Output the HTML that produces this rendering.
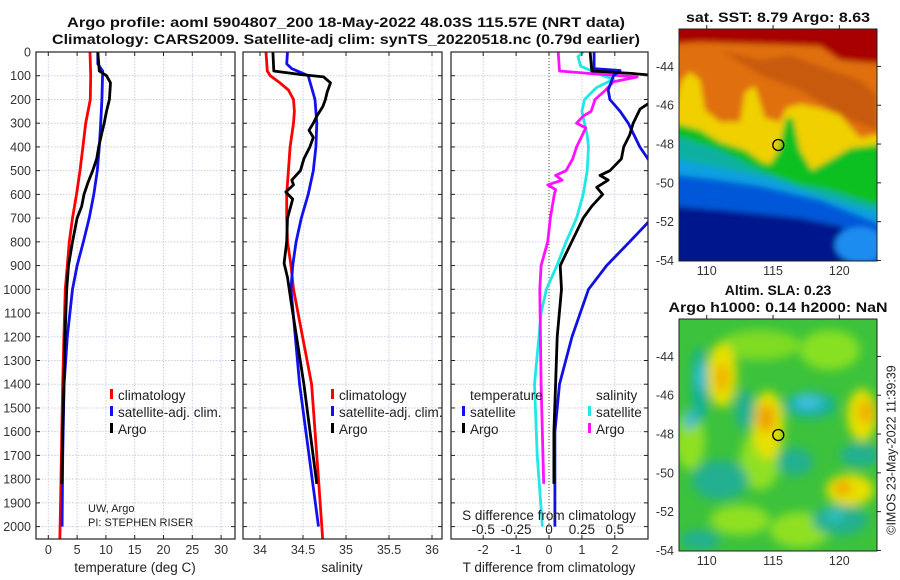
<!DOCTYPE html>
<html><head><meta charset="utf-8"><style>
body{margin:0;background:#fff;}
svg{display:block;font-family:"Liberation Sans","DejaVu Sans",sans-serif;}
.tk{font-size:12.5px;fill:#333;}
.lg{font-size:13.5px;fill:#222;}
.tt{font-size:14px;font-weight:bold;fill:#111;}
</style></head><body>
<svg id="fig" width="900" height="580" viewBox="0 0 900 580">
<defs>
<clipPath id="c1"><rect x="36" y="52" width="199" height="487"/></clipPath>
<clipPath id="c2"><rect x="243" y="52" width="199" height="487"/></clipPath>
<clipPath id="c3"><rect x="451" y="52" width="197" height="487"/></clipPath>
<clipPath id="cm1"><rect x="679" y="29" width="198" height="232"/></clipPath>
<clipPath id="cm2"><rect x="679" y="319" width="198" height="232"/></clipPath>
<filter id="bl" x="-20%" y="-20%" width="140%" height="140%"><feGaussianBlur stdDeviation="3"/></filter>
<filter id="bl2" x="-50%" y="-50%" width="200%" height="200%"><feGaussianBlur stdDeviation="5"/></filter>
</defs>
<text class="tt" x="346" y="27" text-anchor="middle" textLength="558" lengthAdjust="spacingAndGlyphs">Argo profile: aoml 5904807_200 18-May-2022 48.03S 115.57E (NRT data)</text>
<text class="tt" x="346" y="44" text-anchor="middle" textLength="588" lengthAdjust="spacingAndGlyphs">Climatology: CARS2009. Satellite-adj clim: synTS_20220518.nc (0.79d earlier)</text>
<g id="grids"></g>
<g id="lines"></g>
<g id="frames"></g>
<g id="labels"></g>

<!-- SST map -->
<g clip-path="url(#cm1)">
<g filter="url(#bl)">
<rect x="670" y="20" width="220" height="250" fill="#e07010"/>
<path d="M670,20 L890,20 L890,64 L860,62 L840,60 L820,46 L760,44 L700,42 L670,44 Z" fill="#a80000"/>
<path d="M720,50 L760,60 L790,55 L830,70 L860,80 L877,95 L877,130 L850,120 L800,90 L760,75 Z" fill="#c85a08"/>
<path d="M670,118 L682,80 L690,72 L700,80 L705,110 L720,122 L740,122 L745,92 L755,86 L765,118 L780,122 L786,108 L800,104 L820,108 L840,115 L860,138 L890,132 L890,270 L670,270 Z" fill="#f0d000"/>
<path d="M670,122 L700,130 L720,142 L745,150 L762,162 L770,164 L778,152 L786,118 L793,118 L800,150 L812,170 L830,160 L850,148 L890,143 L890,270 L670,270 Z" fill="#10c020"/>
<path d="M670,134 L720,150 L760,170 L800,185 L830,190 L860,200 L890,208 L890,270 L670,270 Z" fill="#10b0a0"/>
<path d="M670,158 L720,168 L770,178 L820,196 L890,216 L890,270 L670,270 Z" fill="#10a0e0"/>
<path d="M670,174 L720,180 L760,186 L820,200 L890,228 L890,270 L670,270 Z" fill="#0058d8"/>
<path d="M670,206 L720,210 L760,214 L800,218 L840,226 L855,240 L870,270 L670,270 Z" fill="#00168c"/>
<ellipse cx="860" cy="245" rx="25" ry="18" fill="#1c8cf0"/>
</g>
<circle cx="778.3" cy="145" r="5.5" fill="none" stroke="#000" stroke-width="1.3"/>
</g>
<rect x="679" y="29" width="198" height="232" fill="none" stroke="#222" stroke-width="1"/>

<!-- SLA map -->
<g clip-path="url(#cm2)">
<rect x="670" y="310" width="220" height="250" fill="#3cc23c"/>
<g filter="url(#bl2)">
<ellipse cx="760" cy="345" rx="40" ry="15" fill="#80dc20"/>
<ellipse cx="830" cy="350" rx="30" ry="20" fill="#88e020"/>
<ellipse cx="690" cy="440" rx="15" ry="30" fill="#90e020"/>
<ellipse cx="740" cy="520" rx="30" ry="15" fill="#90e020"/>
<ellipse cx="800" cy="530" rx="30" ry="18" fill="#90e020"/>
<ellipse cx="760" cy="460" rx="20" ry="30" fill="#90e020"/>
<ellipse cx="722" cy="375" rx="15" ry="32" fill="#e8e000"/>
<ellipse cx="722" cy="378" rx="7" ry="14" fill="#f0b000"/>
<ellipse cx="700" cy="385" rx="8" ry="38" fill="#10b0a0"/>
<ellipse cx="700" cy="377" rx="4" ry="14" fill="#30c0e0"/>
<ellipse cx="690" cy="420" rx="6" ry="10" fill="#30b8d0"/>
<ellipse cx="768" cy="425" rx="16" ry="34" fill="#e8e000"/>
<ellipse cx="766" cy="418" rx="9" ry="14" fill="#f0a000"/>
<ellipse cx="810" cy="405" rx="26" ry="13" fill="#18b0a0"/>
<ellipse cx="808" cy="402" rx="14" ry="7" fill="#40c0e0"/>
<ellipse cx="862" cy="415" rx="15" ry="26" fill="#e8e000"/>
<ellipse cx="866" cy="412" rx="8" ry="12" fill="#f0b000"/>
<ellipse cx="850" cy="490" rx="24" ry="16" fill="#e8e000"/>
<ellipse cx="843" cy="488" rx="8" ry="7" fill="#f0a000"/>
<ellipse cx="720" cy="480" rx="28" ry="20" fill="#20b090"/>
<ellipse cx="840" cy="520" rx="28" ry="15" fill="#20b090"/>
<ellipse cx="835" cy="515" rx="10" ry="6" fill="#30c0c0"/>
<ellipse cx="860" cy="455" rx="20" ry="12" fill="#20b090"/>
<ellipse cx="795" cy="462" rx="18" ry="14" fill="#20b090"/>
<ellipse cx="745" cy="410" rx="10" ry="20" fill="#20b090"/>
<ellipse cx="700" cy="540" rx="20" ry="10" fill="#20b090"/>
</g>
<circle cx="778.3" cy="435" r="5.5" fill="none" stroke="#000" stroke-width="1.3"/>
</g>
<rect x="679" y="319" width="198" height="232" fill="none" stroke="#222" stroke-width="1"/>

<text class="tt" x="778" y="22" text-anchor="middle" textLength="184" lengthAdjust="spacingAndGlyphs">sat. SST: 8.79 Argo: 8.63</text>
<text class="tt" x="778" y="295" text-anchor="middle">Altim. SLA: 0.23</text>
<text class="tt" x="778" y="312" text-anchor="middle" textLength="219" lengthAdjust="spacingAndGlyphs">Argo h1000: 0.14 h2000: NaN</text>
<text x="892" y="450" font-size="12.5" fill="#222" text-anchor="middle" transform="rotate(-90 892 450)" dominant-baseline="middle">©IMOS 23-May-2022 11:39:39</text>
<text x="88" y="512" font-size="11" fill="#222">UW, Argo</text>
<text x="88" y="526" font-size="11" fill="#222">PI: STEPHEN RISER</text>
</svg>
<script>
// depth levels (dbar) and values per series
const tClimD=[0,100,200,300,400,500,600,700,800,900,1000,1200,1400,1600,1800,2000,2060];
const tClimV=[7.24,7.36,7.3,6.5,6.0,5.5,4.9,4.2,3.65,3.3,2.95,2.7,2.5,2.35,2.2,2.05,2.0];
const tSatD=[0,50,80,200,300,400,500,600,700,800,900,1000,1200,1400,1700,2000];
const tSatV=[8.6,8.6,9.45,9.3,9.1,8.85,8.5,7.9,7.1,6.1,5.0,4.2,3.3,2.75,2.5,2.4];
const tArgoD=[0,80,100,130,200,250,300,340,400,450,500,550,600,650,700,800,900,1000,1200,1400,1600,1820];
const tArgoV=[8.6,8.85,10.1,10.8,10.6,10.1,9.7,9.3,8.75,8.4,7.7,6.9,6.2,5.8,5.0,4.2,3.5,3.2,2.9,2.7,2.5,2.35];
const sClimD=[0,80,100,130,160,200,250,300,400,500,600,700,800,900,1000,1400,1800,2060];
const sClimV=[34.07,34.085,34.12,34.23,34.33,34.39,34.40,34.39,34.35,34.33,34.31,34.31,34.32,34.36,34.39,34.6,34.68,34.73];
const sSatD=[0,50,70,100,200,300,400,500,600,700,800,900,1000,1400,2000];
const sSatV=[34.32,34.31,34.37,34.56,34.64,34.66,34.65,34.62,34.56,34.48,34.42,34.38,34.36,34.46,34.68];
const sArgoD=[0,80,95,105,130,170,200,230,270,300,330,360,400,450,500,540,560,590,620,700,800,890,950,1050,1400,1820];
const sArgoV=[34.15,34.16,34.47,34.74,34.82,34.78,34.76,34.73,34.66,34.62,34.57,34.62,34.58,34.51,34.47,34.37,34.39,34.30,34.38,34.32,34.31,34.28,34.32,34.36,34.51,34.66];
const dTArgoD=[0,80,90,100,210,240,300,350,400,450,500,520,540,570,600,650,700,800,900,1000,1200,1400,1600,1820];
const dTArgoV=[1.25,1.3,2.5,3.3,3.1,2.77,2.56,2.45,2.27,2.2,1.85,1.55,1.8,1.45,1.63,1.3,1.04,0.69,0.34,0.38,0.25,0.2,0.15,0.15];
const dTSatD=[0,70,78,100,160,200,250,300,400,470,705,800,900,1000,1200,1400,1600,2000];
const dTSatV=[1.37,1.37,2.16,1.96,1.8,1.85,2.16,2.41,2.76,3.1,3.1,2.45,1.75,1.2,0.7,0.32,0.18,0.18];
const dSSatD=[0,20,60,100,115,150,200,250,300,350,400,500,600,700,800,900,1000,1100,1400,1700,2000];
const dSSatV=[0.26,0.22,0.24,0.41,0.49,0.36,0.27,0.25,0.27,0.29,0.30,0.29,0.26,0.21,0.13,0.06,-0.02,-0.06,-0.11,-0.09,-0.05];
const dSArgoD=[0,80,90,105,125,160,200,250,270,300,320,400,450,500,520,540,560,580,600,700,800,900,1000,1400,1820];
const dSArgoV=[0.07,0.08,0.30,0.67,0.49,0.43,0.35,0.32,0.26,0.21,0.28,0.21,0.18,0.13,0.05,0.10,-0.01,0.05,0.04,0.01,-0.01,-0.06,-0.07,-0.06,-0.04];
const depthTicks=[0,100,200,300,400,500,600,700,800,900,1000,1100,1200,1300,1400,1500,1600,1700,1800,1900,2000];
const tTicks=[0,5,10,15,20,25,30];
const sTicks=[34,34.5,35,35.5,36];
const dTTicks=[-2,-1,0,1,2];
const dSTicks=[-0.5,-0.25,0,0.25,0.5];
const latTicks=[-44,-46,-48,-50,-52,-54];
const lonTicks=[110,115,120];

const NS='http://www.w3.org/2000/svg';
const yD=d=>52+d*0.2373;
const xT=v=>48.3+v*5.76;
const xS=v=>260+(v-34)*86;
const xDT=v=>549+v*32.9;
const xDS=v=>549+v*131.6;
const yLat=(v,top)=>top+(-42.07-v)*19.4;
const xLon=v=>679.3+(v-107.93)*13.26;
function mk(tag,attrs,parent){const e=document.createElementNS(NS,tag);for(const k in attrs)e.setAttribute(k,attrs[k]);parent.appendChild(e);return e;}
const G=document.getElementById('grids'),L=document.getElementById('lines'),F=document.getElementById('frames'),T=document.getElementById('labels');
const panels=[{x0:36,x1:235,ticks:tTicks,fx:xT,clip:'c1',name:'temperature'},{x0:243,x1:442,ticks:sTicks,fx:xS,clip:'c2',name:'salinity'},{x0:451,x1:648,ticks:dTTicks,fx:xDT,clip:'c3',name:'difference'}];
panels.forEach(p=>{
  depthTicks.forEach(d=>{
    const ln=mk('line',{x1:p.x0,x2:p.x1,y1:yD(d),y2:yD(d),stroke:'#c9cde6','stroke-width':1,'stroke-dasharray':'1.5,1.5'},G);
    
    
    mk('line',{x1:p.x0,x2:p.x0+4,y1:yD(d),y2:yD(d),stroke:'#222'},F);
    mk('line',{x1:p.x1-4,x2:p.x1,y1:yD(d),y2:yD(d),stroke:'#222'},F);
  });
  p.ticks.forEach(v=>{
    const x=p.fx(v);
    const ln=mk('line',{x1:x,x2:x,y1:52,y2:539,stroke:'#c9cde6','stroke-width':1,'stroke-dasharray':'1.5,1.5'},G);
    
    
    mk('line',{x1:x,x2:x,y1:539,y2:535,stroke:'#222'},F);
    mk('line',{x1:x,x2:x,y1:52,y2:56,stroke:'#222'},F);
    const t=mk('text',{x:x,y:554,'text-anchor':'middle',class:'tk'},T);
    t.textContent=String(v);
    
    
  });
  const r=mk('rect',{x:p.x0,y:52,width:p.x1-p.x0,height:487,fill:'none',stroke:'#222','stroke-width':1.2},F);
  
  
});
const zl=mk('line',{x1:xDT(0),x2:xDT(0),y1:52,y2:539,stroke:'#4a5a2a','stroke-width':1,'stroke-dasharray':'1,2'},G);


depthTicks.forEach(d=>{
  const t=mk('text',{x:31,y:yD(d)+4.5,'text-anchor':'end',class:'tk'},T);
  t.textContent=String(d);
  
  
});
function series(D,V,fx,color,clip,name){
  const pts=D.map((d,i)=>fx(V[i]).toFixed(1)+','+yD(d).toFixed(1)).join(' ');
  const pl=mk('polyline',{points:pts,fill:'none',stroke:color,'stroke-width':2.8,'stroke-linejoin':'round','clip-path':'url(#'+clip+')'},L);
  
  
}
series(tClimD,tClimV,xT,'#ff0000','c1','temperature-climatology-line');
series(tSatD,tSatV,xT,'#1010f0','c1','temperature-satellite-line');
series(tArgoD,tArgoV,xT,'#000','c1','temperature-argo-line');
series(sClimD,sClimV,xS,'#ff0000','c2','salinity-climatology-line');
series(sSatD,sSatV,xS,'#1010f0','c2','salinity-satellite-line');
series(sArgoD,sArgoV,xS,'#000','c2','salinity-argo-line');
series(dSSatD,dSSatV,xDS,'#20e8e8','c3','salinity-diff-satellite-line');
series(dSArgoD,dSArgoV,xDS,'#ff10ff','c3','salinity-diff-argo-line');
series(dTSatD,dTSatV,xDT,'#1010e0','c3','temperature-diff-satellite-line');
series(dTArgoD,dTArgoV,xDT,'#000','c3','temperature-diff-argo-line');
function txt(x,y,s,cls,name,anchor,extra){
  const t=mk('text',Object.assign({x:x,y:y,class:cls,'text-anchor':anchor||'start'},extra||{}),T);
  t.textContent=s;
  
  
  return t;
}
function leg(x,y,color,label,name){
  const b=mk('rect',{x:x,y:y-11,width:3,height:10,fill:color},T);
  
  
  txt(x+8,y,label,'lg',name);
}
leg(110,400,'#ff0000','climatology','temp-legend-climatology');
leg(110,417,'#1010f0','satellite-adj. clim.','temp-legend-satellite');
leg(110,434,'#000','Argo','temp-legend-argo');
leg(331,400,'#ff0000','climatology','sal-legend-climatology');
leg(331,417,'#1010f0','satellite-adj. clim.','sal-legend-satellite');
leg(331,434,'#000','Argo','sal-legend-argo');
txt(470,400,'temperature','lg','diff-legend-temperature-header');
txt(596,400,'salinity','lg','diff-legend-salinity-header');
leg(462,417,'#1010f0','satellite','diff-legend-temp-satellite');
leg(462,434,'#000','Argo','diff-legend-temp-argo');
leg(588,417,'#20e8e8','satellite','diff-legend-sal-satellite');
leg(588,434,'#ff10ff','Argo','diff-legend-sal-argo');
txt(549,520,'S difference from climatology','lg','s-diff-axis-title','middle');
dSTicks.forEach(v=>txt(xDS(v),534,String(v),'lg','s-diff-tick-label','middle'));
txt(135,572,'temperature (deg C)','lg','temperature-axis-title','middle');
txt(342,572,'salinity','lg','salinity-axis-title','middle');
txt(549,572,'T difference from climatology','lg','t-diff-axis-title','middle');
[29,319].forEach((top,mi)=>{
  latTicks.forEach(v=>{
    const y=yLat(v,top);
    txt(674,y+4.5,String(v),'tk',(mi?'sla':'sst')+'-lat-tick-label','end');
    mk('line',{x1:877,x2:881,y1:y,y2:y,stroke:'#222'},T);
  });
  lonTicks.forEach(v=>{
    const x=xLon(v);
    txt(x,top+232+14,String(v),'tk',(mi?'sla':'sst')+'-lon-tick-label','middle');
    mk('line',{x1:x,x2:x,y1:top,y2:top-4,stroke:'#222'},T);
  });
});
</script>
</body></html>
